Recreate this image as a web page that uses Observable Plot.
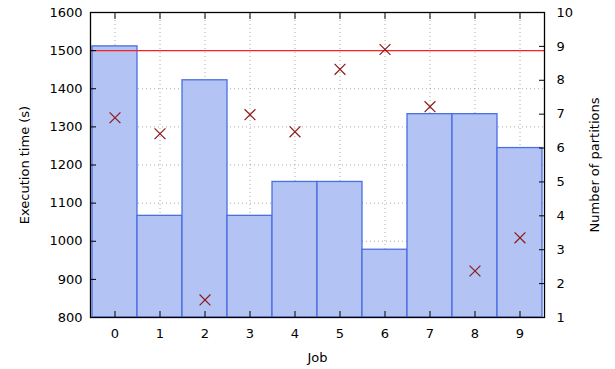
<!DOCTYPE html>
<html>
<head>
<meta charset="utf-8">
<script src="https://cdn.jsdelivr.net/npm/d3@7"></script>
<script src="https://cdn.jsdelivr.net/npm/@observablehq/plot@0.6"></script>
<style>
  html, body { margin: 0; padding: 0; background: #fff; }
  svg { font-family: "DejaVu Sans", sans-serif; }
</style>
</head>
<body>
<div id="chart"></div>
<script>
// Per-job data: number of partitions (bars, right axis) and execution time (crosses, left axis)
const jobs = [0, 1, 2, 3, 4, 5, 6, 7, 8, 9];
const partitions = [9, 4, 8, 4, 5, 5, 3, 7, 7, 6];
const execTime = [1324, 1282, 846, 1332, 1287, 1451, 1503, 1353, 922, 1009];
const deadline = 1500;
const timeTicks = [800, 900, 1000, 1100, 1200, 1300, 1400, 1500, 1600];
const partitionTicks = [1, 2, 3, 4, 5, 6, 7, 8, 9, 10];

// Right axis (partitions 1..10) shares the frame with the left axis (800..1600 s)
const timeDomain = [800, 1600];
const partDomain = [1, 10];
const partToTime = d3.scaleLinear().domain(partDomain).range(timeDomain);

const data = jobs.map((job, i) => ({
  job,
  partitions: partitions[i],
  partY: partToTime(partitions[i]),
  time: execTime[i]
}));

const fs = 13;

const chart = Plot.plot({
  width: 615,
  height: 369,
  marginLeft: 90,
  marginRight: 71,
  marginTop: 12,
  marginBottom: 52,
  style: {fontFamily: "DejaVu Sans, sans-serif", fontSize: fs + "px", color: "#000", background: "#fff"},
  x: {type: "band", domain: jobs, padding: 0},
  y: {domain: timeDomain},
  marks: [
    Plot.gridX(jobs, {stroke: "#aaa", strokeOpacity: 1, strokeDasharray: "1,3"}),
    Plot.gridY(timeTicks, {stroke: "#aaa", strokeOpacity: 1, strokeDasharray: "1,3"}),
    Plot.barY(data, {x: "job", y1: timeDomain[0], y2: "partY", fill: "#b3c3f3", stroke: "#4a6fe0", strokeWidth: 1.3}),
    Plot.ruleY([deadline], {stroke: "#ff2020", strokeWidth: 1.2}),
    Plot.dot(data, {x: "job", y: "time", symbol: "times", r: 5, stroke: "#8b1a1a", strokeWidth: 1.2}),
    // left axis: execution time
    Plot.axisY(timeTicks, {anchor: "left", tickSize: -6, tickPadding: 14, fontSize: fs,
      tickFormat: d => String(d),
      label: "Execution time (s)", labelAnchor: "center", labelOffset: 71, labelArrow: "none"}),
    // right axis: number of partitions
    Plot.axisY(partitionTicks.map(p => partToTime(p)), {anchor: "right", tickSize: -6, tickPadding: 18, fontSize: fs,
      tickFormat: v => String(Math.round(partToTime.invert(v))),
      label: "Number of partitions", labelAnchor: "center", labelOffset: 54, labelArrow: "none"}),
    Plot.axisX(jobs, {anchor: "bottom", tickSize: -6, tickPadding: 17, fontSize: fs,
      label: "Job", labelAnchor: "center", labelOffset: 44, labelArrow: "none"}),
    Plot.axisX(jobs, {anchor: "top", tickSize: -6, tickFormat: () => "", label: null}),
    Plot.frame({stroke: "#000", strokeWidth: 1.3})
  ]
});
document.getElementById("chart").appendChild(chart);
</script>
</body>
</html>
